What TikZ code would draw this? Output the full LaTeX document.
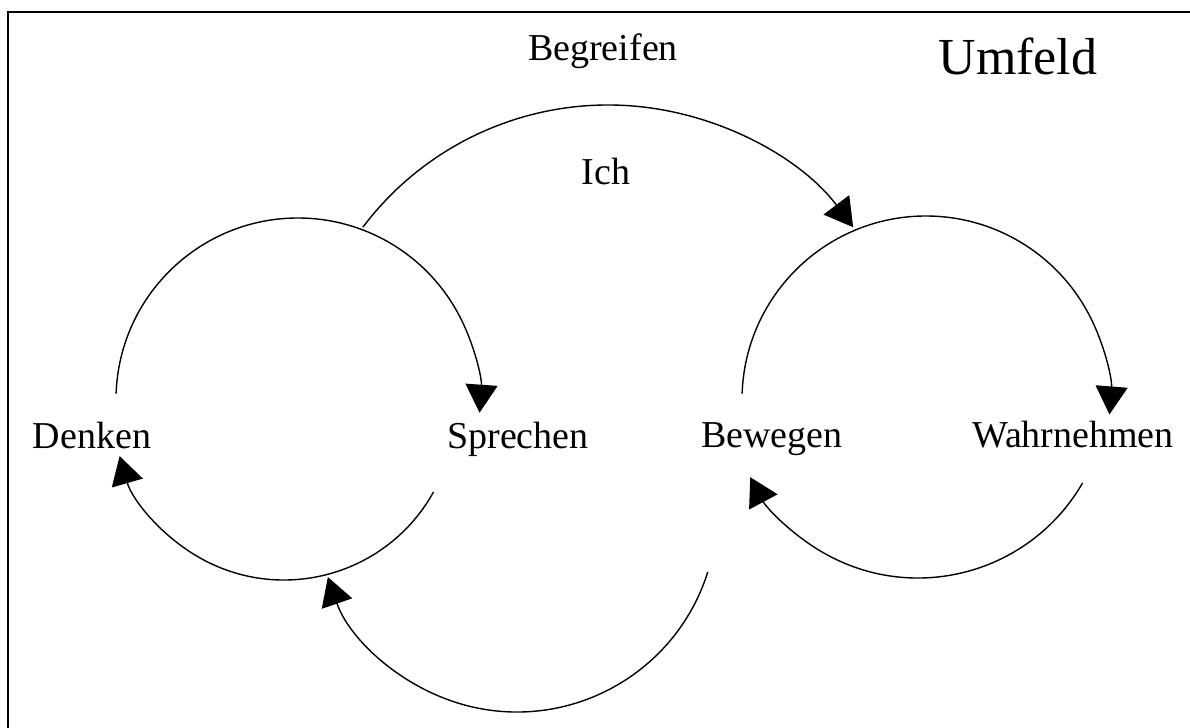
\documentclass[tikz,border=0pt]{standalone}
\usepackage{fontspec}
\setmainfont{Liberation Serif}
\usetikzlibrary{arrows.meta}
\tikzset{>={Triangle[width=16pt,length=14pt]}}

\begin{document}
\begin{tikzpicture}[x=0.5pt, y=0.5pt]
  \tikzset{wort/.style={anchor=base, font=\fontsize{19}{23}\selectfont}}
  \tikzset{bogen/.style={->, line width=0.7pt}}

  \useasboundingbox (0,0) rectangle (1190,728);
  \draw[line width=1.3pt] (8,0) -- (8,716) -- (1190,716);

  % Begriffe
  \node[wort] (denken)     at (92,279)   {Denken};
  \node[wort] (sprechen)   at (518,279)  {Sprechen};
  \node[wort] (bewegen)    at (772,280)  {Bewegen};
  \node[wort] (wahrnehmen) at (1073,280) {Wahrnehmen};
  \node[wort] (begreifen)  at (603,667)  {Begreifen};
  \node[wort] (ich)        at (606,543)  {Ich};
  \node[anchor=base, font=\fontsize{26}{31}\selectfont] (umfeld) at (1018,653) {Umfeld};

  % Mittelpunkte der Kreise
  \coordinate (links oben)  at (298,328);
  \coordinate (links unten) at (284,319);
  \coordinate (rechts oben)  at (926,328);
  \coordinate (rechts unten) at (918,340);
  \coordinate (gross oben)  at (608,316);
  \coordinate (gross unten) at (517,216);

  \draw[bogen] (links oben)   ++(178:182) arc[start angle=178, end angle=-4,   radius=182];
  \draw[bogen] (links unten)  ++(-29:171) arc[start angle=-29, end angle=-164, radius=171];
  \draw[bogen] (rechts oben)  ++(178:184) arc[start angle=178, end angle=-4.5, radius=184];
  \draw[bogen] (rechts unten) ++(-30:190) arc[start angle=-30, end angle=-152, radius=190];
  \draw[bogen] (gross oben)   ++(143:307) arc[start angle=143, end angle=37,   radius=307];
  \draw[bogen] (gross unten)  ++(-17.5:200) arc[start angle=-17.5, end angle=-161, radius=200];
\end{tikzpicture}
\end{document}
